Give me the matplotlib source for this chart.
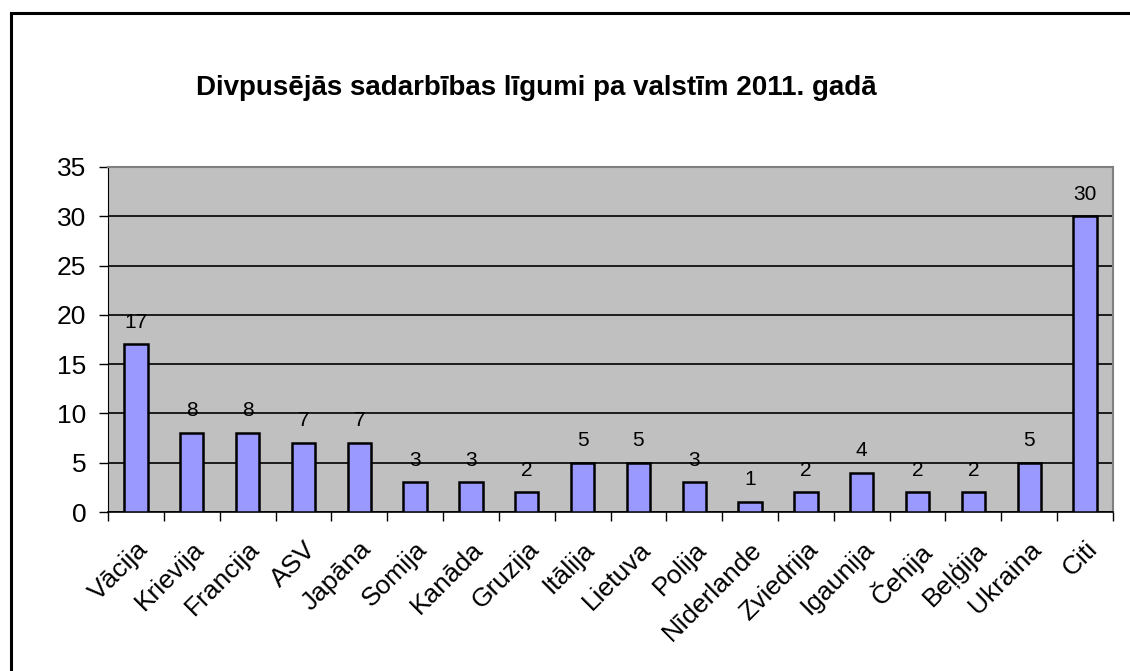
import numpy as np
import matplotlib
matplotlib.use('Agg')
import matplotlib.pyplot as plt
from matplotlib.patches import Rectangle

plt.rcParams['font.family'] = ['Liberation Sans', 'DejaVu Sans']

countries = ['Vācija', 'Krievija', 'Francija', 'ASV', 'Japāna', 'Somija', 'Kanāda',
             'Gruzija', 'Itālija', 'Lietuva', 'Polija', 'Nīderlande', 'Zviedrija',
             'Igaunija', 'Čehija', 'Beļģija', 'Ukraina', 'Citi']
agreements = [17, 8, 8, 7, 7, 3, 3, 2, 5, 5, 3, 1, 2, 4, 2, 2, 5, 30]
title = 'Divpusējās sadarbības līgumi pa valstīm 2011. gadā'

W, H = 1130, 671
fig = plt.figure(figsize=(W / 100, H / 100), dpi=100)
fig.patch.set_facecolor('white')

# outer chart frame (right/bottom edges fall outside the image)
fig.patches.append(Rectangle((10.5 / W, -0.1), 1.2, 1.1 - 13.5 / H,
                             transform=fig.transFigure, fill=False,
                             edgecolor='black', linewidth=2.2))

left, right, top, bottom = 108, 1113, 167, 512
ax = fig.add_axes([left / W, 1 - bottom / H, (right - left) / W, (bottom - top) / H])
ax.set_facecolor('#C0C0C0')

x = np.arange(len(countries))
ax.bar(x, agreements, width=0.42, color='#9999FF', edgecolor='black', linewidth=1.8, zorder=3)
for xi, v in zip(x, agreements):
    ax.annotate(str(v), (xi, v), xytext=(0, 16), textcoords='offset points',
                ha='center', va='center', fontsize=15, zorder=4)

ax.set_xlim(-0.5, len(countries) - 0.5)
ax.set_ylim(0, 35)
ax.set_yticks(range(0, 36, 5))
ax.yaxis.grid(True, color='black', linewidth=1.2, zorder=1)
ax.tick_params(axis='y', labelsize=19, length=6.5, width=1, direction='out', pad=9)

ax.set_xticks(x)
ax.set_xticklabels(countries, rotation=45, ha='right', rotation_mode='anchor', fontsize=19)
ax.set_xticks(np.arange(-0.5, len(countries)), minor=True)
ax.tick_params(axis='x', which='major', length=0, pad=18)
ax.tick_params(axis='x', which='minor', length=6.5, width=1, direction='out')

for s in ['top', 'right']:
    ax.spines[s].set_color('#808080')
    ax.spines[s].set_linewidth(1.5)
ax.spines['left'].set_color('black')
ax.spines['bottom'].set_color('black')
ax.spines['bottom'].set_linewidth(1.2)

fig.text(536 / W, 1 - 95 / H, title, ha='center', va='baseline',
         fontsize=20, fontweight='bold')

fig.savefig('out.png', dpi=100)
